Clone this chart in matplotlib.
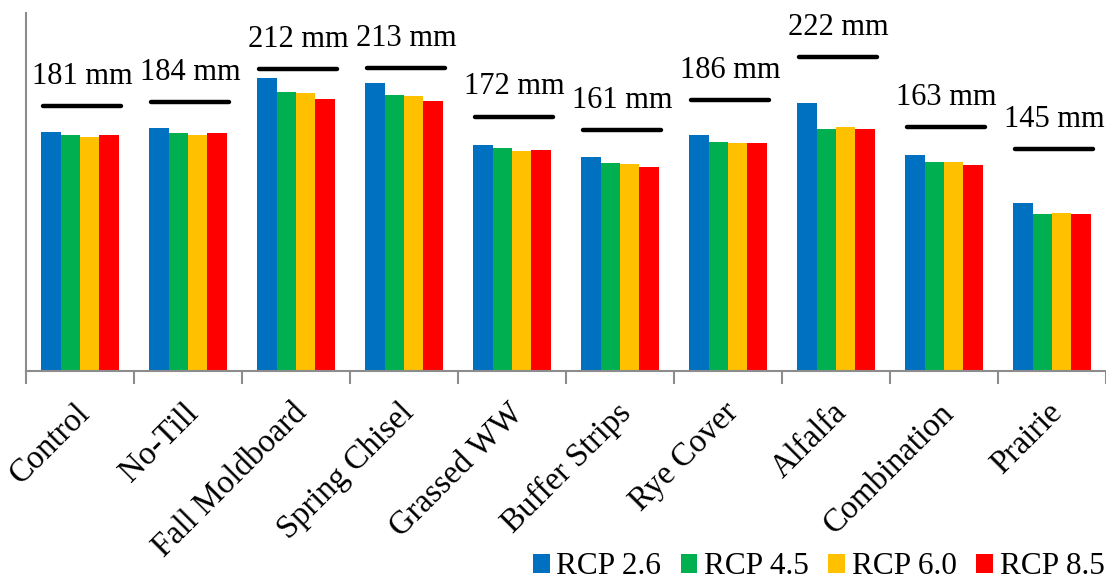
import numpy as np
import matplotlib.pyplot as plt
from matplotlib.transforms import ScaledTranslation

# practices along the x axis
practices = ['Control', 'No-Till', 'Fall Moldboard', 'Spring Chisel', 'Grassed WW',
             'Buffer Strips', 'Rye Cover', 'Alfalfa', 'Combination', 'Prairie']

# scenario bars
scenarios = ['RCP 2.6', 'RCP 4.5', 'RCP 6.0', 'RCP 8.5']
rcp26 = [200.5, 203.9, 245.5, 241.3, 189.4, 179.1, 198.0, 224.8, 180.8, 140.5]
rcp45 = [198.0, 199.2, 233.8, 231.3, 187.1, 174.3, 192.2, 203.1, 175.4, 131.6]
rcp60 = [196.1, 197.5, 233.0, 230.7, 184.6, 173.5, 190.8, 204.2, 174.9, 132.2]
rcp85 = [197.5, 199.2, 227.9, 226.0, 184.9, 171.0, 191.1, 202.5, 172.4, 131.6]

# historical reference (mm) drawn as a bar above each group
baseline = [181, 184, 212, 213, 172, 161, 186, 222, 163, 145]

colors = ['#0070C0', '#00B050', '#FFC000', '#FF0000']
axisGray = '#8C8C8C'

plt.rcParams['font.family'] = ['Liberation Serif', 'DejaVu Serif']

fig = plt.figure(figsize=(11.06, 5.83), dpi=100)
ax = fig.add_axes([26 / 1106, 212 / 583, 1080 / 1106, 358 / 583])

x = np.arange(len(practices))
barW = 0.18
series = [rcp26, rcp45, rcp60, rcp85]
for k in range(len(series)):
  ax.bar(x + (k - 1.5) * barW, series[k], width=barW, color=colors[k],
         label=scenarios[k], linewidth=0)

ax.set_xlim(-0.5, len(practices) - 0.5)
ax.set_ylim(0, 300)

# boundaries between groups carry the tick marks, labels sit at the centres
ax.set_xticks(np.arange(-0.5, len(practices), 1.0))
ax.set_xticklabels([])
ax.tick_params(axis='x', which='major', length=9, width=1.5, color=axisGray, direction='out')
ax.set_xticks(x, minor=True)
ax.set_xticklabels(practices, minor=True, rotation=45, ha='right', va='top',
                   rotation_mode='anchor', fontsize=23.5)
ax.tick_params(axis='x', which='minor', length=0, pad=19)
shift = ScaledTranslation(-5 / 100, 0, fig.dpi_scale_trans)
for lbl in ax.get_xticklabels(minor=True):
  lbl.set_transform(lbl.get_transform() + shift)
ax.set_yticks([])

for side in ['top', 'right']:
  ax.spines[side].set_visible(False)
for side in ['left', 'bottom']:
  ax.spines[side].set_color(axisGray)
  ax.spines[side].set_linewidth(1.5)

# reference values on their own scale
ax2 = ax.twinx()
ax2.set_ylim(-40.8, 258.8)
ax2.axis('off')
ax2.hlines(baseline, x - 0.34, x + 0.38, colors='black', linewidth=3.2, capstyle='round')
for i in range(len(baseline)):
  ax2.annotate('{} mm'.format(baseline[i]), (x[i] + 0.02, baseline[i]),
               xytext=(0, 16), textcoords='offset points',
               ha='center', va='baseline', fontsize=22)

fig.legend(loc='lower right', bbox_to_anchor=(1.0, 0.0), ncol=4, frameon=False,
           fontsize=22.5, handlelength=0.53, handleheight=0.53, handletextpad=0.22,
           columnspacing=0.62, borderaxespad=0.0, borderpad=0.05)

fig.savefig('out.png', dpi=100)
